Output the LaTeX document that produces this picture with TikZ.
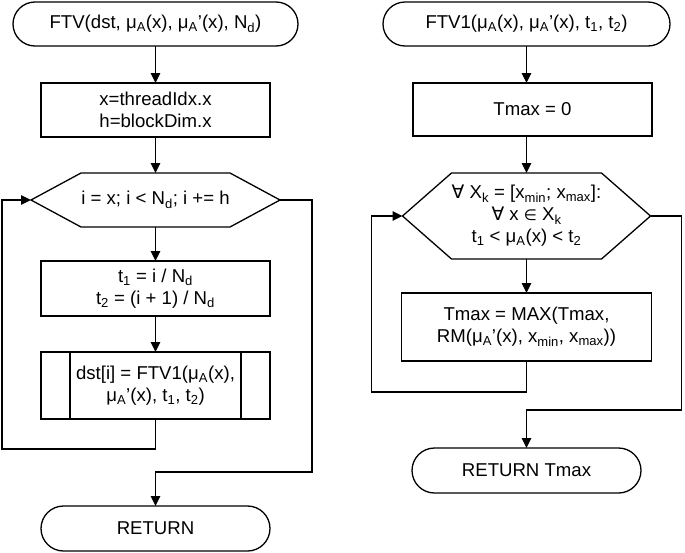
\documentclass[tikz,border=0pt]{standalone}
\usepackage{fontspec}
\setmainfont{Liberation Sans}
\newfontfamily\symf{DejaVu Sans}
\usepackage{tikz}
\usetikzlibrary{arrows.meta,positioning,calc,shapes.misc}
\newcommand{\subtxt}[1]{\textsubscript{#1}}
\tikzset{
    %Define standard arrow tip
    >={Triangle[length=10pt,width=9.5pt]},
    % Define arrow style
    pil/.style={
           ->,
           line width=1.3pt}
}

\begin{document}
\begin{tikzpicture}[node distance=0.0cm, line width=1.3pt, font=\fontsize{18.6}{22}\selectfont]
	\tikzstyle{term} = [rounded rectangle, draw, minimum height=44pt, inner sep=0pt, outer sep=0pt]
	\tikzstyle{proc} = [rectangle, draw, minimum width=229pt, inner sep=0pt, outer sep=0pt, align=center]
	\tikzstyle{hexa} = [rectangle, inner sep=0pt, outer sep=0pt, align=center]

	\useasboundingbox (0,0) rectangle (685pt,-552pt);

	% FTV
	\node[term, minimum width=285pt] (ftv) at (155.5pt,-24pt) {FTV(dst, μ\subtxt{A}(x), μ\subtxt{A}'(x), N\subtxt{d})};
	\node[proc, minimum height=54pt, below=37pt of ftv] (init) {x=threadIdx.x\\h=blockDim.x};
	\node[hexa, minimum width=249pt, minimum height=54pt, below=36pt of init] (loopl) {i = x; i < N\subtxt{d}; i += h};
	\draw (loopl.west) -- ([xshift=50pt]loopl.north west) -- ([xshift=-50pt]loopl.north east)
	   -- (loopl.east) -- ([xshift=-50pt]loopl.south east) -- ([xshift=50pt]loopl.south west) -- cycle;
	\node[proc, minimum height=55pt, below=34pt of loopl] (tval) {t\subtxt{1} = i / N\subtxt{d}\\t\subtxt{2} = (i + 1) / N\subtxt{d}};
	\node[proc, minimum height=67pt, below=36pt of tval] (call) {dst[i] = FTV1(μ\subtxt{A}(x),\\μ\subtxt{A}'(x), t\subtxt{1}, t\subtxt{2})};
	\draw ([xshift=29pt]call.north west) -- ([xshift=29pt]call.south west)
	      ([xshift=-29pt]call.north east) -- ([xshift=-29pt]call.south east);
	\node[term, minimum width=229pt, minimum height=45pt, below=87pt of call] (ret) {RETURN};

	\draw[pil] (ftv) -- (init);
	\draw[pil] (init) -- (loopl);
	\draw[pil] (loopl) -- (tval);
	\draw[pil] (tval) -- (call);
	\draw[pil] (call.south) -- ++(0,-30pt) -| ([xshift=-29pt]loopl.west) -- (loopl.west);
	\draw[pil] (loopl.east) -- ++(32pt,0) |- ([yshift=34pt]ret.north) -- (ret.north);

	% FTV1
	\node[term, minimum width=287pt] (ftvone) at (526.5pt,-24pt) {FTV1(μ\subtxt{A}(x), μ\subtxt{A}'(x), t\subtxt{1}, t\subtxt{2})};
	\node[proc, minimum width=239pt, minimum height=53pt, below=37pt of ftvone, xshift=6pt] (tzero) {Tmax = 0};
	\node[hexa, minimum width=248pt, minimum height=86pt, below=37pt of tzero, xshift=-6pt] (loopr) {{\symf ∀} X\subtxt{k} = [x\subtxt{min}; x\subtxt{max}]:\\{\symf ∀} x {\symf\fontsize{15}{22}\selectfont ∈} X\subtxt{k}\\t\subtxt{1} < μ\subtxt{A}(x) < t\subtxt{2}};
	\draw (loopr.west) -- ([xshift=49pt]loopr.north west) -- ([xshift=-49pt]loopr.north east)
	   -- (loopr.east) -- ([xshift=-49pt]loopr.south east) -- ([xshift=49pt]loopr.south west) -- cycle;
	\node[proc, minimum width=250pt, minimum height=68pt, below=34pt of loopr] (tmax) {Tmax = MAX(Tmax,\\RM(μ\subtxt{A}'(x), x\subtxt{min}, x\subtxt{max}))};
	\node[term, minimum width=229pt, minimum height=45pt, below=87pt of tmax] (rettmax) {RETURN Tmax};

	\draw[pil] (ftvone) -- (ftvone |- tzero.north);
	\draw[pil] (tzero.south -| loopr) -- (loopr.north);
	\draw[pil] (loopr) -- (tmax);
	\draw[pil] (tmax.south) -- ++(0,-31pt) -| ([xshift=-31pt]loopr.west) -- (loopr.west);
	\draw[pil] (loopr.east) -- ++(31pt,0) |- ([yshift=38pt]rettmax.north) -- (rettmax.north);

\end{tikzpicture}
\end{document}
